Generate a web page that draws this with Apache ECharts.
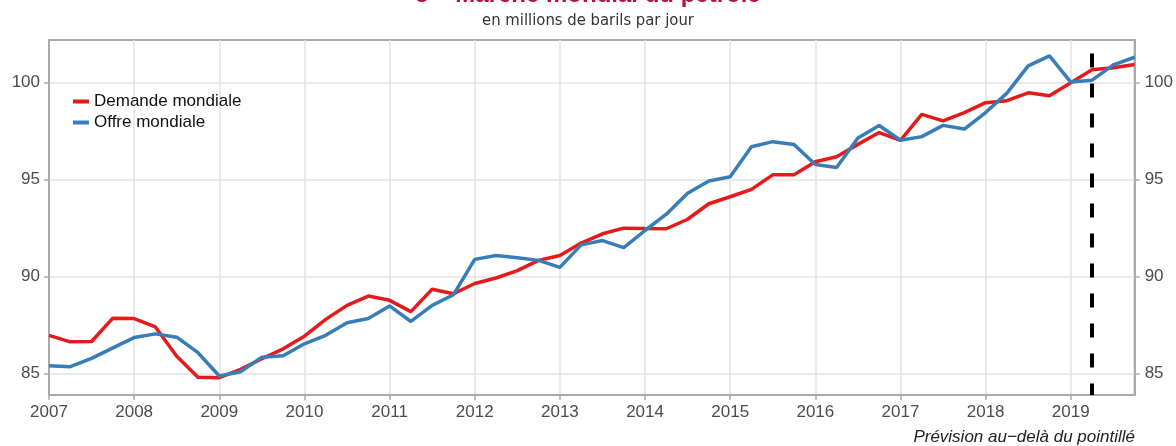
<!DOCTYPE html>
<html lang="fr">
<head>
  <meta charset="UTF-8">
  <title>Marché mondial du pétrole</title>
  <script src="https://cdn.jsdelivr.net/npm/echarts@6/dist/echarts.min.js"></script>
  <style>
    html, body { margin: 0; padding: 0; background: #fff; }
    #chart { width: 1176px; height: 446px; }
  </style>
</head>
<body>
  <div id="chart"></div>
  <script>
    // données trimestrielles, 2007T1 -> 2019T4
    var years = [2007, 2008, 2009, 2010, 2011, 2012, 2013, 2014, 2015, 2016, 2017, 2018, 2019];
    var quarters = [];
    years.forEach(function (y) {
      for (var q = 1; q <= 4; q++) quarters.push(y + 'T' + q);
    });

    var demande = [86.97, 86.64, 86.66, 87.86, 87.84, 87.41, 85.90, 84.81, 84.79, 85.22, 85.77, 86.28,
                   86.93, 87.80, 88.52, 89.00, 88.78, 88.20, 89.35, 89.12, 89.65, 89.93, 90.31, 90.84,
                   91.09, 91.73, 92.21, 92.50, 92.48, 92.47, 92.96, 93.76, 94.12, 94.50, 95.25, 95.25,
                   95.92, 96.18, 96.82, 97.43, 97.03, 98.37, 98.03, 98.46, 98.97, 99.07, 99.48, 99.33,
                   100.00, 100.67, 100.77, 100.94];
    var offre = [85.41, 85.36, 85.79, 86.33, 86.86, 87.05, 86.88, 86.08, 84.88, 85.10, 85.85, 85.92,
                 86.54, 86.98, 87.62, 87.84, 88.49, 87.69, 88.52, 89.07, 90.89, 91.09, 90.97, 90.84,
                 90.48, 91.64, 91.86, 91.50, 92.38, 93.22, 94.30, 94.93, 95.15, 96.70, 96.96, 96.81,
                 95.78, 95.63, 97.15, 97.79, 97.03, 97.22, 97.80, 97.61, 98.46, 99.46, 100.87, 101.38,
                 100.03, 100.13, 100.92, 101.31];
    var yTicks = [85, 90, 95, 100];
    var debutPrevision = '2019T2';

    var font = "'Liberation Sans', Arial, sans-serif";
    var chart = echarts.init(document.getElementById('chart'));

    function yAxisDef(pos, margin, grid) {
      return {
        type: 'value', position: pos, min: 83.9, max: 102.2, splitNumber: 4,
        axisLine: { show: true, lineStyle: { color: '#aaa', width: 2 } },
        axisTick: { show: true, length: 5, customValues: yTicks, lineStyle: { color: '#aaa', width: 1.5 } },
        axisLabel: { margin: margin, fontSize: 17, color: '#4d4d4d', fontFamily: font, customValues: yTicks },
        splitLine: { show: grid, lineStyle: { color: '#e3e3e3', width: 1.5 } }
      };
    }

    chart.setOption({
      animation: false,
      title: [
        { text: '5 – Marché mondial du pétrole', left: 'center', top: -22,
          textStyle: { fontSize: 24, fontWeight: 'bold', color: '#b3123f', fontFamily: font } },
        { text: 'en millions de barils par jour', left: 'center', top: 7,
          textStyle: { fontSize: 16.5, fontWeight: 'normal', color: '#333',
                       fontFamily: "'Liberation Sans Narrow', 'DejaVu Sans Condensed', sans-serif" } }
      ],
      legend: {
        left: 73, top: 93, orient: 'vertical', padding: 0,
        icon: 'rect', itemWidth: 16, itemHeight: 4, itemGap: 4,
        textStyle: { fontSize: 17, color: '#111', fontFamily: font },
        data: ['Demande mondiale', 'Offre mondiale']
      },
      grid: { left: 49, right: 41, top: 40, bottom: 51, show: true, borderColor: '#aaa', borderWidth: 2 },
      xAxis: {
        type: 'category', data: quarters, boundaryGap: false,
        axisLine: { lineStyle: { color: '#aaa', width: 2 } },
        axisTick: { interval: 3, length: 5, lineStyle: { color: '#aaa', width: 1.5 } },
        axisLabel: { interval: 3, margin: 9, fontSize: 17, color: '#4d4d4d', fontFamily: font,
                     formatter: function (v) { return v.slice(0, 4); } },
        splitLine: { show: true, interval: 3, lineStyle: { color: '#e3e3e3', width: 1.5 } }
      },
      yAxis: [yAxisDef('left', 9, true), yAxisDef('right', 10, false)],
      series: [
        { name: 'Demande mondiale', type: 'line', data: demande, symbol: 'none',
          lineStyle: { color: '#e41a1c', width: 3.5 }, itemStyle: { color: '#e41a1c' },
          markLine: {
            silent: true, symbol: 'none', label: { show: false },
            lineStyle: { color: '#000', width: 4, type: [14, 16] },
            data: [[{ coord: [debutPrevision, 101.5] }, { coord: [debutPrevision, 83.9] }]]
          } },
        { name: 'Offre mondiale', type: 'line', data: offre, symbol: 'none',
          lineStyle: { color: '#377eb8', width: 3.5 }, itemStyle: { color: '#377eb8' } }
      ],
      graphic: [
        { type: 'text', right: 41, top: 429,
          style: { text: 'Prévision au−delà du pointillé', fontSize: 17, fontStyle: 'italic',
                   fill: '#222', fontFamily: font } }
      ]
    });
  </script>
</body>
</html>
